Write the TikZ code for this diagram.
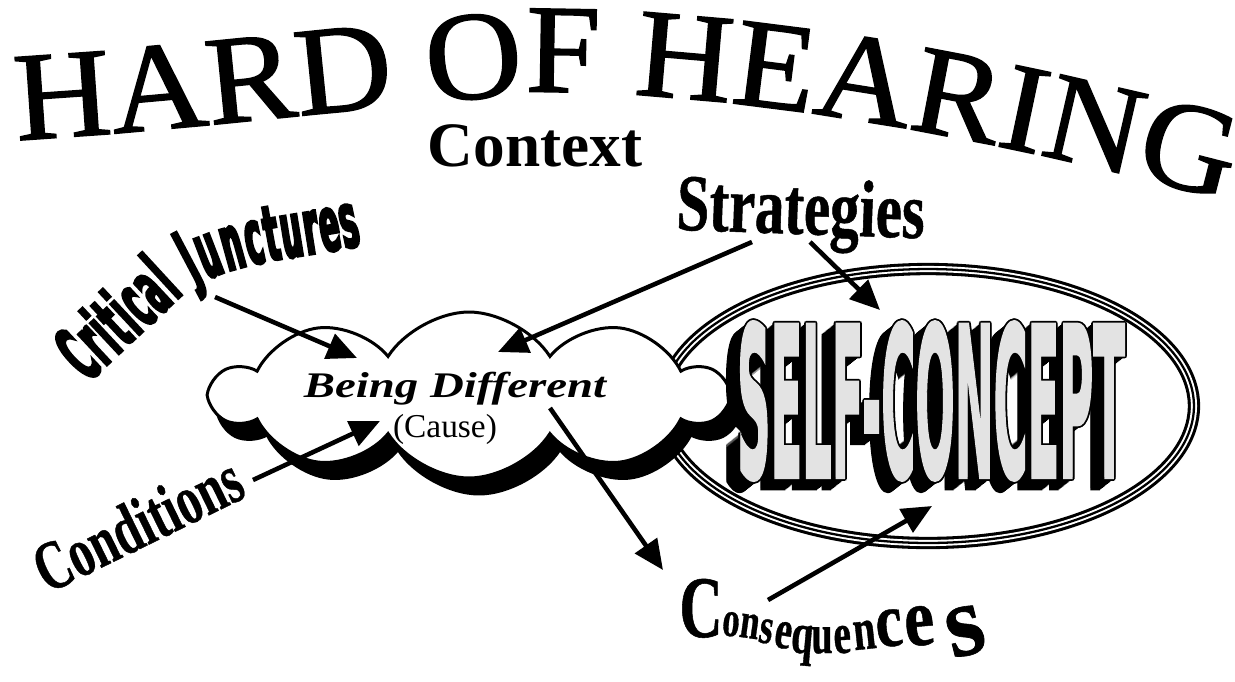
\documentclass[tikz,border=0pt]{standalone}
\usepackage{fontspec}
\setmainfont{Liberation Serif}
\newfontfamily\headfont[FakeStretch=1.06,FakeBold=1.2]{Liberation Serif}
\newfontfamily\labfont[FakeStretch=0.68,FakeBold=0.6]{Liberation Serif}
\newfontfamily\difffont[FakeStretch=1.3]{Liberation Serif}
\newfontfamily\critfont[FakeStretch=0.38,FakeBold=3]{DejaVu Sans}
\newfontfamily\scfont[FakeBold=2]{DejaVu Sans}
\usetikzlibrary{arrows.meta, shapes.geometric, shapes.symbols, decorations.text, calc, positioning}
\newcommand\titlefont{\headfont\fontsize{72}{72}\selectfont}

\begin{document}
\begin{tikzpicture}[x=0.02cm, y=-0.02cm,
    arrow/.style={-{Triangle[length=17pt, width=15pt]}, line width=2.6pt},
    txt/.style={inner sep=0pt, anchor=base},
    labtext/.style={txt, font=\labfont\bfseries\fontsize{#1}{#1}\selectfont},
    puffy/.style={cloud, cloud puffs=10, cloud puff arc=115, aspect=3.1,
                  minimum width=10.24cm, minimum height=3.32cm, inner sep=0pt},
    sctext/.style={inner sep=0pt, xscale=0.44, yscale=1.98,
                   font=\scfont\bfseries\fontsize{60}{60}\selectfont}
]
\useasboundingbox (0,0) rectangle (1235,681);

% --- title and context ---
\path[decorate, decoration={text along path, text align={fit to path},
      text={|\titlefont|HARD OF HEARING}}]
    (17,140) .. controls (200,130) and (420,100) .. (560,92)
             .. controls (760,95) and (1000,140) .. (1225,200);
\node[txt, font=\bfseries\fontsize{36}{36}\selectfont] (context) at (535,166) {Context};

% --- self-concept ring ---
\node[ellipse, draw, line width=7pt, minimum width=10.64cm, minimum height=5.48cm,
      inner sep=0pt] (selfc) at (928,406) {};
\draw[white, line width=3.5pt] (selfc.center) ellipse [x radius=5.32cm, y radius=2.74cm];
\draw[black, line width=1.3pt] (selfc.center) ellipse [x radius=5.32cm, y radius=2.74cm];

% --- cloud ---
\node[puffy, fill=black, draw, line width=1.7pt] (cloudsh) at (479,411) {};
\node[puffy, fill=white, draw, line width=1.7pt] (cloud) at (469,395) {};
\node[txt, font=\difffont\bfseries\itshape\fontsize{20.5}{20.5}\selectfont] (diff) at (455,397) {Being Different};
\node[txt, font=\fontsize{19}{19}\selectfont] (cause) at (445,437) {(Cause)};

% --- SELF-CONCEPT lettering ---
\foreach \k in {1,...,14}
  \node[sctext, text=black] (scsh\k) at (931-\k,401+0.8*\k) {SELF-CONCEPT};
\foreach \a in {0,45,...,315}
  \node[sctext, text=black] (scol\a) at ($(931,401)+(\a:1.8)$) {SELF-CONCEPT};
\node[sctext, text=gray!22] (sctop) at (931,401) {SELF-CONCEPT};

% --- labels ---
\path[decorate, decoration={text along path, text align={fit to path},
      text={|\critfont\bfseries\fontsize{44}{44}\selectfont|Critical Junctures}}]
    (88,383) -- (180,297) .. controls (220,260) and (310,258) .. (362,245);
\node[labtext=46, rotate=-2, xscale=1.07] (strat) at (800,234) {Strategies};
\node[labtext=40, rotate=26] (cond) at (148,545) {Conditions};
\foreach \ch/\cx/\cy/\cs/\cr/\cw [count=\i] in
    {C/701/637/50/0/1, o/730/636/29/-5/1, n/748/638/29/-8/1, s/764/643/29/-10/1,
     e/781/648/32/-10/1, q/801/653/33/-5/1, u/822/653/32/0/1, e/843/653/33/3/1,
     n/866/649/34/6/1, c/891/646/44/6/1.15, e/921/645/47/5/1.2, s/971/654/58/14/1.4}
  \node[labtext=\cs, rotate=\cr, xscale=\cw] (cq\i) at (\cx,\cy) {\ch};

% --- arrows ---
\coordinate (cjFrom) at (215,297);  \coordinate (cjTo) at (357,358);
\coordinate (stFromA) at (752,242); \coordinate (stToA) at (498,352);
\coordinate (stFromB) at (810,242); \coordinate (stToB) at (880,310);
\coordinate (cdFrom) at (253,480);  \coordinate (cdTo) at (380,421);
\coordinate (cqFromA) at (550,408); \coordinate (cqToA) at (663,570);
\coordinate (cqFromB) at (768,600); \coordinate (cqToB) at (932,506);
\draw[arrow] (cjFrom) -- (cjTo);
\draw[arrow] (stFromA) -- (stToA);
\draw[arrow] (stFromB) -- (stToB);
\draw[arrow] (cdFrom) -- (cdTo);
\draw[arrow] (cqFromA) -- (cqToA);
\draw[arrow] (cqFromB) -- (cqToB);
\end{tikzpicture}
\end{document}
